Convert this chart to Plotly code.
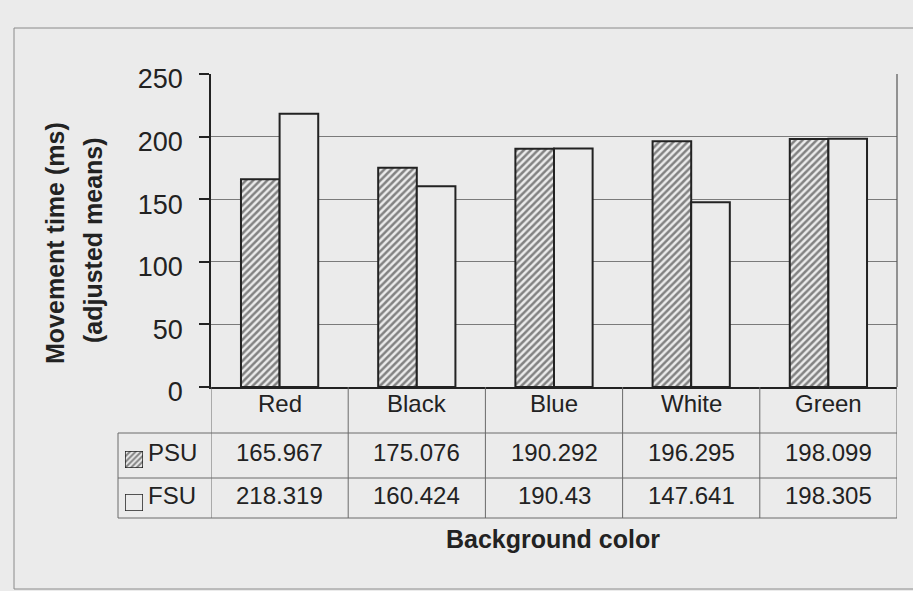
import plotly.graph_objects as go

# ---- data -------------------------------------------------------------
categories = ["Red", "Black", "Blue", "White", "Green"]
psu = [165.967, 175.076, 190.292, 196.295, 198.099]
fsu = [218.319, 160.424, 190.43, 147.641, 198.305]
series_names = ["PSU", "FSU"]
y_ticks = [0, 50, 100, 150, 200, 250]

# ---- geometry helpers (figure is drawn edge to edge) -------------------
W, H = 913, 591
def px(x):
    return x / W
def py(y):
    return 1 - y / H

BG = "#ebebeb"
INK = "#222222"
GRID = "#7a7a7a"
FONT = "Arial, Liberation Sans, sans-serif"

plot_left, plot_right = 211, 897
plot_top, plot_bottom = 74, 387
row_cat, row_psu, row_fsu, row_end = 387, 433, 478, 518
head_left = 118

hatch = dict(shape="/", fgcolor="#1a1a1a", bgcolor=BG, size=5, solidity=0.5)

fig = go.Figure()

fig.add_trace(go.Bar(
    name=series_names[0], x=categories, y=psu,
    marker=dict(color=BG, line=dict(color=INK, width=2), pattern=hatch),
    showlegend=False,
))
fig.add_trace(go.Bar(
    name=series_names[1], x=categories, y=fsu,
    marker=dict(color=BG, line=dict(color=INK, width=2)),
    showlegend=False,
))

# small key swatches in the table's row headers
key_boxes = [(125, 143, 451, 468), (125, 143, 494, 511)]
for i, (x0, x1, y0, y1) in enumerate(key_boxes):
    ax = str(i + 2)
    marker = dict(color=BG, line=dict(color=INK, width=1.5))
    if i == 0:
        marker["pattern"] = dict(hatch, size=4)
    fig.add_trace(go.Bar(x=[0], y=[1], width=[1], marker=marker,
                         xaxis="x" + ax, yaxis="y" + ax,
                         showlegend=False, hoverinfo="skip"))
    fig.layout["xaxis" + ax] = dict(domain=[px(x0), px(x1)], range=[-0.5, 0.5],
                                    visible=False, anchor="y" + ax, fixedrange=True)
    fig.layout["yaxis" + ax] = dict(domain=[py(y1), py(y0)], range=[0, 1],
                                    visible=False, anchor="x" + ax, fixedrange=True)

fig.update_layout(
    width=W, height=H, autosize=False,
    margin=dict(l=0, r=0, t=0, b=0, pad=0, autoexpand=False),
    paper_bgcolor=BG, plot_bgcolor=BG,
    showlegend=False,
    barmode="group", bargap=0.437, bargroupgap=0,
    font=dict(family=FONT, color=INK),
    xaxis=dict(domain=[px(plot_left), px(plot_right)],
               showticklabels=False, ticks="", showgrid=False, automargin=False,
               showline=True, linecolor=INK, linewidth=1.5,
               range=[-0.5, len(categories) - 0.5]),
    yaxis=dict(domain=[py(plot_bottom), py(plot_top)], automargin=False,
               range=[0, 250], tickvals=y_ticks,
               tickfont=dict(size=27, family=FONT, color=INK),
               ticks="outside", ticklen=10, tickcolor=INK, tickwidth=1.5,
               ticklabelstandoff=11, ticklabelshift=5,
               showgrid=True, gridcolor=GRID, gridwidth=1,
               showline=True, linecolor=INK, linewidth=1.5,
               zeroline=False),
)

shapes = []
line_style = dict(color="#6a6a6a", width=1)
# right border of the plot area
shapes.append(dict(type="line", xref="paper", yref="y",
                   x0=px(plot_right), x1=px(plot_right), y0=0, y1=250,
                   line=dict(color="#555555", width=1.2)))
# outer chart frame
shapes.append(dict(type="rect", xref="paper", yref="paper",
                   x0=px(14), x1=px(W + 5), y0=py(589), y1=py(28),
                   line=dict(color="#8a8a8a", width=1)))
# data table: vertical rules at category boundaries
for k in range(len(categories) + 1):
    shapes.append(dict(type="line", xref="x", yref="paper",
                       x0=k - 0.5, x1=k - 0.5, y0=py(row_end), y1=py(row_cat),
                       line=line_style))
# left edge of the row-header column
shapes.append(dict(type="line", xref="paper", yref="paper",
                   x0=px(head_left), x1=px(head_left), y0=py(row_end), y1=py(row_psu),
                   line=line_style))
# horizontal rules
for yy in (row_psu, row_fsu, row_end):
    shapes.append(dict(type="line", xref="paper", yref="paper",
                       x0=px(head_left), x1=px(plot_right), y0=py(yy), y1=py(yy),
                       line=line_style))

annotations = []
cell_font = dict(size=24, family=FONT, color=INK)
for c in categories:
    annotations.append(dict(x=c, xref="x", y=py(403), yref="paper",
                            text=c, showarrow=False, font=cell_font,
                            xanchor="center", yanchor="middle"))
for row_y, values in ((452, psu), (495, fsu)):
    for c, v in zip(categories, values):
        annotations.append(dict(x=c, xref="x", y=py(row_y), yref="paper",
                                text=f"{v:g}", showarrow=False, font=cell_font,
                                xanchor="center", yanchor="middle"))
for row_y, name in ((452, series_names[0]), (495, series_names[1])):
    annotations.append(dict(x=px(146), xref="paper", y=py(row_y), yref="paper",
                            text=name, showarrow=False, font=cell_font,
                            xanchor="left", yanchor="middle"))

title_font = dict(size=25, family=FONT, color=INK, weight="bold")
annotations.append(dict(x=px(553), xref="paper", y=py(539), yref="paper",
                        text="Background color", showarrow=False, font=title_font,
                        xanchor="center", yanchor="middle"))
annotations.append(dict(x=px(55), xref="paper", y=py(243), yref="paper",
                        text="Movement time (ms)", textangle=-90, showarrow=False,
                        font=title_font, xanchor="center", yanchor="middle"))
annotations.append(dict(x=px(93), xref="paper", y=py(240), yref="paper",
                        text="(adjusted means)", textangle=-90, showarrow=False,
                        font=title_font, xanchor="center", yanchor="middle"))

fig.update_layout(shapes=shapes, annotations=annotations)

fig.write_html("out.html")
